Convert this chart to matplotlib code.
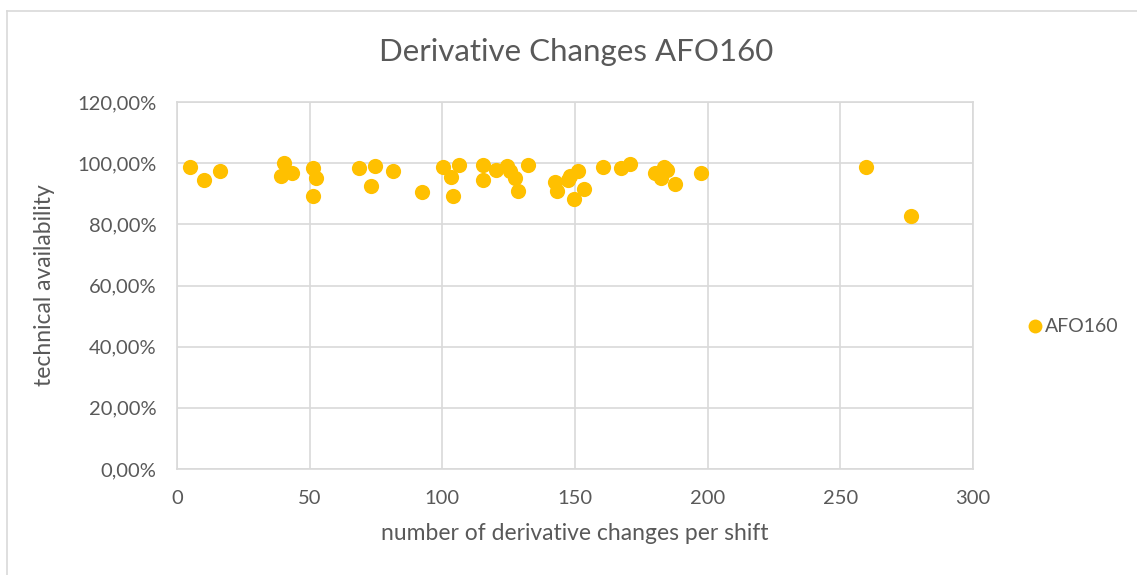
import matplotlib
matplotlib.use("Agg")
import matplotlib.pyplot as plt
from matplotlib.ticker import FuncFormatter, MultipleLocator
from matplotlib.lines import Line2D

plt.rcParams['font.family'] = ['Lato', 'DejaVu Sans']

title = "Derivative Changes AFO160"
series_name = "AFO160"
x_label = "number of derivative changes per shift"
y_label = "technical availability"

changes = [5.0, 10.1, 16.1, 40.4, 39.1, 43.3, 51.4, 52.4, 51.4, 68.6, 74.5, 73.3,
           81.4, 92.4, 100.4, 106.1, 103.2, 104.2, 115.3, 115.3, 120.3, 124.4,
           125.6, 127.5, 128.4, 132.3, 142.3, 143.3, 147.3, 148.3, 151.3, 149.5,
           153.4, 160.6, 167.2, 170.6, 180.3, 183.6, 184.5, 182.3, 187.6, 197.3,
           259.5, 276.6]
availability = [98.6, 94.5, 97.5, 99.9, 95.8, 96.9, 98.4, 95.3, 89.3, 98.3, 99.1, 92.6,
                97.3, 90.7, 98.9, 99.3, 95.6, 89.2, 99.3, 94.4, 97.7, 99.1,
                97.5, 95.0, 90.9, 99.5, 94.0, 90.9, 94.5, 95.8, 97.5, 88.2,
                91.5, 98.9, 98.4, 99.7, 96.7, 98.9, 97.8, 95.3, 93.1, 96.7,
                98.6, 82.6]

W, H = 1137, 575
fig = plt.figure(figsize=(W / 100, H / 100), dpi=100)
ax = fig.add_axes([177 / W, 1 - 469 / H, (973 - 177) / W, (469 - 102) / H])

grid_c = '#D9D9D9'
text_c = '#595959'
gold = '#FFC000'

ax.scatter(changes, availability, s=120, color=gold, zorder=3, linewidths=0)

ax.set_xlim(0, 300)
ax.set_ylim(0, 120)
ax.xaxis.set_major_locator(MultipleLocator(50))
ax.yaxis.set_major_locator(MultipleLocator(20))
ax.yaxis.set_major_formatter(FuncFormatter(lambda v, p: f"{v:.2f}".replace('.', ',') + "%"))
ax.grid(True, color=grid_c, linewidth=1.2, zorder=0)
for s in ax.spines.values():
    s.set_color(grid_c)
    s.set_linewidth(1.2)
ax.tick_params(length=0, labelsize=14.5, colors=text_c)
ax.tick_params(axis='y', pad=15)
ax.tick_params(axis='x', pad=15)

ax.set_xlabel(x_label, fontsize=16.5, color=text_c, labelpad=12)
ax.set_ylabel(y_label, fontsize=16.5, color=text_c, labelpad=16)

fig.text(576 / W, 1 - 52 / H, title, fontsize=22.5, color=text_c, ha='center', va='center')

handle = Line2D([], [], marker='o', linestyle='none', markersize=10,
                markerfacecolor=gold, markeredgewidth=0)
leg = fig.legend([handle], [series_name], loc='center left',
                 bbox_to_anchor=(1017 / W, 1 - 327 / H), frameon=False,
                 fontsize=14, handletextpad=0.05, handlelength=1.0, borderaxespad=0)
for t in leg.get_texts():
    t.set_color(text_c)

# chart border
fig.add_artist(Line2D([7 / W, 1], [1 - 11 / H, 1 - 11 / H], color=grid_c, linewidth=1.2))
fig.add_artist(Line2D([7 / W, 7 / W], [0, 1 - 11 / H], color=grid_c, linewidth=1.2))

fig.savefig("out.png", dpi=100)
